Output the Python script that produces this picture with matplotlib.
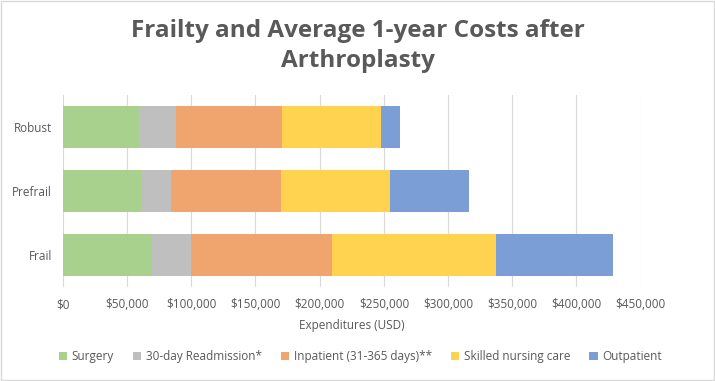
import numpy as np
import matplotlib.pyplot as plt
from matplotlib.ticker import FuncFormatter
from matplotlib.patches import Rectangle

groups = ["Frail", "Prefrail", "Robust"]
components = ["Surgery", "30-day Readmission*", "Inpatient (31-365 days)**",
              "Skilled nursing care", "Outpatient"]
# values per group in order Frail, Prefrail, Robust
surgery = [69500, 61400, 58900]
readmission = [30100, 23000, 29400]
inpatient = [110000, 85500, 82300]
nursing = [127600, 85100, 77300]
outpatient = [91500, 61300, 14500]

series = [surgery, readmission, inpatient, nursing, outpatient]
colors = ["#A9D18E", "#BFBFBF", "#F0A56F", "#FFD34F", "#7C9ED6"]
txt = "#595959"

plt.rcParams["font.family"] = ["Open Sans", "DejaVu Sans"]

fig = plt.figure(figsize=(7.15, 3.81), dpi=100)
ax = fig.add_axes([0.088, 0.247, 0.808, 0.504])

y = np.arange(len(groups))
left = np.zeros(len(groups))
for name, vals, c in zip(components, series, colors):
    ax.barh(y, vals, left=left, height=0.66, color=c, label=name, zorder=3)
    left += np.array(vals)

ax.set_xlim(0, 450000)
ax.set_ylim(-0.5, 2.5)
ax.set_xticks(np.arange(0, 450001, 50000))
ax.xaxis.set_major_formatter(FuncFormatter(lambda v, p: f"${v:,.0f}"))
ax.set_yticks(y)
ax.set_yticklabels(groups)
ax.grid(axis="x", color="#D9D9D9", linewidth=0.8, zorder=0)
for s in ax.spines.values():
    s.set_visible(False)
ax.tick_params(length=0, colors=txt, labelsize=8.5)
ax.tick_params(axis="x", pad=8)
ax.tick_params(axis="y", pad=8)
ax.set_xlabel("Expenditures (USD)", color=txt, fontsize=8.5, labelpad=6)

fig.text(0.5, 0.879, "Frailty and Average 1-year Costs after\nArthroplasty",
         ha="center", va="center", fontsize=17.5, fontweight="bold", color=txt,
         linespacing=1.3)

fig.legend(loc="center", bbox_to_anchor=(0.504, 0.063), ncol=5, frameon=False,
           fontsize=8.5, labelcolor=txt, handlelength=0.7, handleheight=0.7,
           handletextpad=0.4, columnspacing=1.6)

fig.patches.append(Rectangle((0.001, 0.002), 0.997, 0.995, transform=fig.transFigure,
                             fill=False, edgecolor="#D9D9D9", linewidth=1))

fig.savefig("out.png", dpi=100)
